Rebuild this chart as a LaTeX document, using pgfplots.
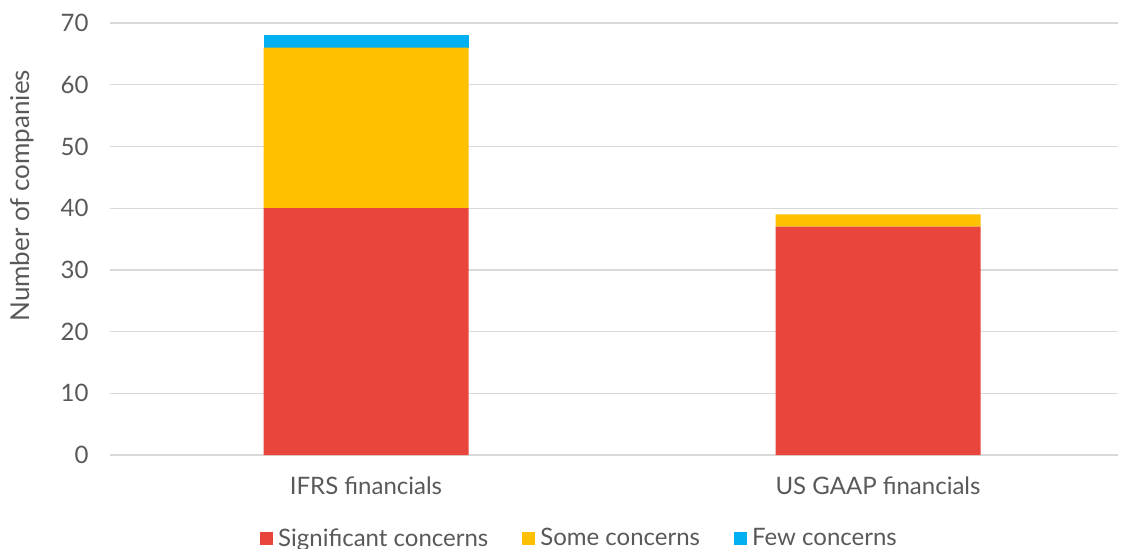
\documentclass[border=0pt]{standalone}
\usepackage{pgfplots}
\pgfplotsset{compat=1.18}
\usepackage{fontspec}
\setmainfont{Lato}
\definecolor{cred}{HTML}{E8463D}
\definecolor{cyel}{HTML}{FFC000}
\definecolor{cblu}{HTML}{00B0F0}
\definecolor{ctxt}{HTML}{595959}
\definecolor{cgrid}{HTML}{D9D9D9}
\begin{document}
\begin{tikzpicture}
\useasboundingbox (-110bp,-94bp) rectangle (1011bp,455bp);
\begin{axis}[
  at={(0,0)}, anchor=south west,
  x=512bp, y=6.171bp,
  ybar stacked, bar width=205bp,
  xmin=-0.5, xmax=1.46875, ymin=0, ymax=70,
  xtick={0,1}, xticklabels={IFRS financials, US GAAP financials},
  ytick={0,10,...,70},
  axis line style={draw=none},
  major tick length=0pt,
  ymajorgrids, grid style={cgrid, line width=1.3bp},
  tick label style={font=\fontsize{24bp}{28bp}\selectfont, text=ctxt},
  yticklabel style={anchor=east, xshift=-18bp},
  xticklabel style={anchor=center, yshift=-31bp},
  /pgf/number format/assume math mode=true,
  ylabel={Number of companies},
  ylabel style={font=\fontsize{26bp}{30bp}\selectfont, text=ctxt, at={(axis description cs:0,0.6)}, anchor=center, yshift=88bp},
  legend style={draw=none, fill=none, legend columns=-1, at={(469.5bp,-83bp)}, anchor=center, font=\fontsize{24bp}{28bp}\selectfont, text=ctxt,
    /tikz/every odd column/.append style={column sep=3bp},
    /tikz/every even column/.append style={column sep=32bp}},
  legend image code/.code={\fill[#1] (0bp,-6.5bp) rectangle (13bp,6.5bp);},
]
\addplot[fill=cred, draw=none] coordinates {(0,40) (1,37)};
\addplot[fill=cyel, draw=none] coordinates {(0,26) (1,2)};
\addplot[fill=cblu, draw=none] coordinates {(0,2) (1,0)};
\legend{Significant concerns, Some concerns, Few concerns}
\end{axis}
\end{tikzpicture}
\end{document}
